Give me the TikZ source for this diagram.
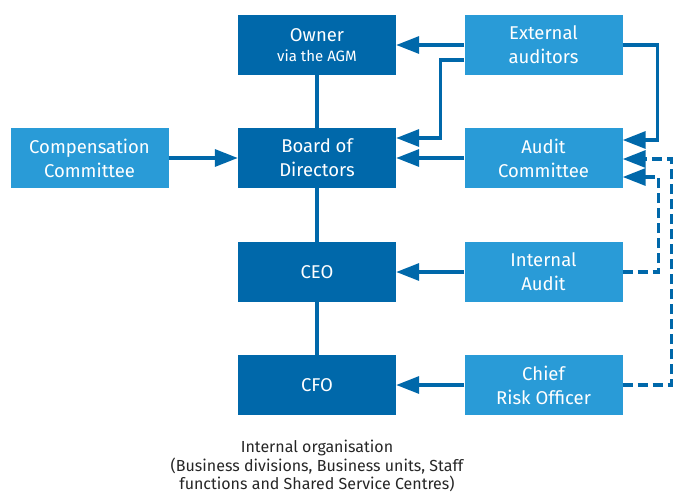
\documentclass[tikz,border=0pt]{standalone}
\usepackage{fontspec}
\setmainfont{Fira Sans}
\usetikzlibrary{arrows.meta}
\definecolor{govdark}{RGB}{0,104,170}
\definecolor{govlight}{RGB}{41,155,215}

\begin{document}
\begin{tikzpicture}[x=1pt,y=-1pt,
  box/.style={minimum width=158pt,minimum height=60pt,inner sep=0pt,align=center,text=white,font=\fontsize{18.5}{24}\selectfont},
  mainbox/.style={box,fill=govdark},
  sidebox/.style={box,fill=govlight},
  link/.style={draw=govdark,line width=3.3pt},
  arr/.style={link,-{Triangle[length=23pt,width=17pt]}},
  dasharr/.style={arr,dash pattern=on 10pt off 5pt}]
  \useasboundingbox (0,0) rectangle (675,493);
  \node[mainbox] (owner) at (317,45) {Owner\\[-4pt]{\fontsize{15}{17}\selectfont via the AGM}};
  \node[mainbox] (board) at (317,158) {Board of\\Directors};
  \node[mainbox] (ceo) at (317,272) {CEO};
  \node[mainbox] (cfo) at (317,385) {CFO};
  \node[sidebox] (ext) at (543.5,45) {External\\auditors};
  \node[sidebox] (audit) at (543.5,158) {Audit\\Committee};
  \node[sidebox] (intaudit) at (543.5,272) {Internal\\Audit};
  \node[sidebox] (cro) at (543.5,385) {Chief\\Risk Officer};
  \node[sidebox] (comp) at (89.5,158) {Compensation\\Committee};
  \node[align=center,font=\fontsize{16}{18.5}\selectfont,text=black!85] (org) at (317,466)
    {Internal organisation\\(Business divisions, Business units, Staff\\functions and Shared Service Centres)};
  \draw[link] (owner.south) -- (board.north);
  \draw[link] (board.south) -- (ceo.north);
  \draw[link] (ceo.south) -- (cfo.north);
  \draw[arr] (comp.east) -- (board.west);
  \draw[arr] (ext.west) -- (owner.east);
  \draw[arr] ([yshift=-15pt]ext.west) -- ++(-24,0) |- ([yshift=20pt]board.east);
  \draw[arr] (audit.west) -- (board.east);
  \draw[arr] (ext.east) -- ++(35,0) |- ([yshift=18pt]audit.east);
  \draw[arr] (intaudit.west) -- (ceo.east);
  \draw[arr] (cro.west) -- (cfo.east);
  \draw[dasharr] (cro.east) -- ++(49,0) |- ([yshift=-1pt]audit.east);
  \draw[dasharr] (intaudit.east) -- ++(36,0) |- ([yshift=-19pt]audit.east);
\end{tikzpicture}
\end{document}
